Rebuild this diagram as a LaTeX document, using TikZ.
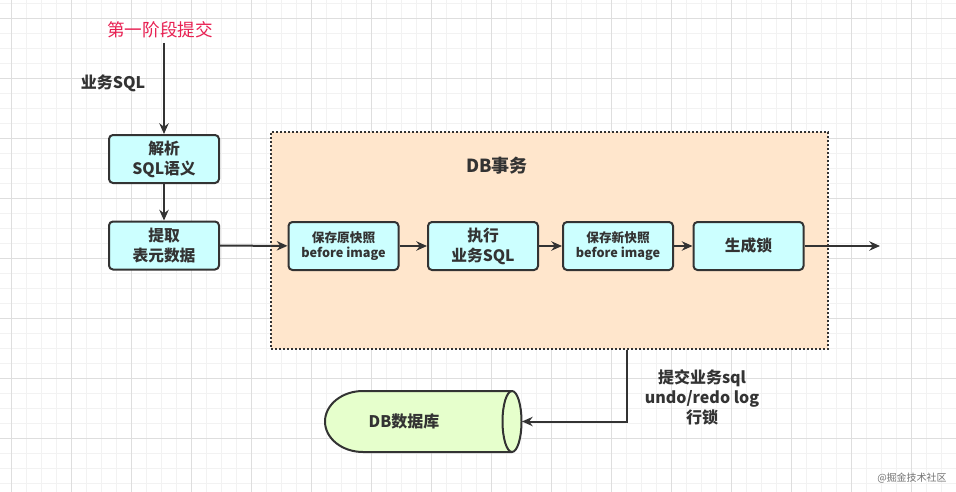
\documentclass[tikz,border=0pt]{standalone}
\usepackage{fontspec}
\setmainfont{Noto Sans CJK SC}
\usetikzlibrary{arrows.meta}
\definecolor{lineblack}{RGB}{51,51,51}
\definecolor{boxcyan}{RGB}{204,255,255}
\definecolor{txnpeach}{RGB}{255,230,204}
\definecolor{dbgreen}{RGB}{230,255,204}
\definecolor{titlered}{RGB}{232,32,82}
\definecolor{gridminor}{RGB}{242,242,242}
\definecolor{gridmajor}{RGB}{222,222,222}
\tikzset{
  stepbox/.style={
    rectangle, rounded corners=3pt, minimum width=82.5pt, minimum height=36pt,
    draw=lineblack, fill=boxcyan, line width=1.5pt, align=center, inner sep=2pt,
    font=\fontsize{11.8}{15}\selectfont\bfseries, text=lineblack
  },
  smallbox/.style={
    stepbox, font=\fontsize{9.5}{11.5}\selectfont\bfseries
  },
  container/.style={
    rectangle, minimum width=417.75pt, minimum height=162.75pt,
    draw=lineblack, fill=txnpeach, line width=1.5pt,
    dash pattern=on 1.5pt off 1.5pt
  },
  label/.style={
    align=center, font=\fontsize{12}{15}\selectfont\bfseries, text=lineblack
  },
  arrow/.style={-{Stealth[length=8pt, width=7pt]}, line width=1.5pt, color=lineblack}
}
\begin{document}
\begin{tikzpicture}[x=0.75pt, y=-0.75pt]
  \useasboundingbox (0,0) rectangle (956,492);
  \fill[white] (0,0) rectangle (956,492);

  % Grid
  \foreach \gx in {11.7,26.7,...,956} \draw[gridminor, line width=0.75pt] (\gx,0) -- (\gx,492);
  \foreach \gy in {3.3,18.3,...,492} \draw[gridminor, line width=0.75pt] (0,\gy) -- (956,\gy);
  \foreach \gx in {11.7,71.7,...,956} \draw[gridmajor, line width=0.75pt] (\gx,0) -- (\gx,492);
  \foreach \gy in {18.3,78.3,...,492} \draw[gridmajor, line width=0.75pt] (0,\gy) -- (956,\gy);

  % Transaction container
  \node[container] (txn) at (549.5,240.5) {};
  \node[label, font=\fontsize{13.5}{15}\selectfont\bfseries] (txntitle) at (497,166) {DB事务};

  % Stage title and input
  \node[font=\fontsize{13.2}{15}\selectfont, text=titlered] (stage) at (160,30) {第一阶段提交};
  \node[label] (sqlin) at (113,83) {业务SQL};

  % Steps
  \node[stepbox] (parse) at (164,159) {解析\\SQL语义};
  \node[stepbox] (meta) at (164,245.5) {提取\\表元数据};
  \node[smallbox] (before) at (343.5,246) {保存原快照\\before image};
  \node[stepbox] (exec) at (483,246) {执行\\业务SQL};
  \node[smallbox] (after) at (618,246) {保存新快照\\before image};
  \node[stepbox] (lock) at (748.5,246) {生成锁};
  \coordinate (exit) at (880,246);

  % Database
  \fill[dbgreen, draw=lineblack, line width=1.5pt]
    (512,391) -- (363,391)
    arc[start angle=90, end angle=270, x radius=28.5pt, y radius=22.875pt]
    -- (512,452)
    arc[start angle=270, end angle=450, x radius=7.125pt, y radius=22.875pt] -- cycle;
  \draw[lineblack, line width=1.5pt] (512,391)
    arc[start angle=90, end angle=270, x radius=7.125pt, y radius=22.875pt];
  \node[label] (db) at (404,421.5) {DB数据库};
  \coordinate (dbport) at (522,421.5);

  % Flow
  \draw[arrow] (stage.south -| parse.north) -- (parse);
  \draw[arrow] (parse) -- (meta);
  \draw[arrow] (meta) -- (before);
  \draw[arrow] (before) -- (exec);
  \draw[arrow] (exec) -- (after);
  \draw[arrow] (after) -- (lock);
  \draw[arrow] (lock) -- (exit);
  \draw[arrow] ([xshift=58.1pt]txn.south) |- (dbport);
  \node[label] (commit) at (702,397) {提交业务sql\\undo/redo log\\行锁};

  % Watermark
  \node[font=\fontsize{7.5}{9}\selectfont, text=black!55] (mark) at (912,478) {@掘金技术社区};
\end{tikzpicture}
\end{document}
